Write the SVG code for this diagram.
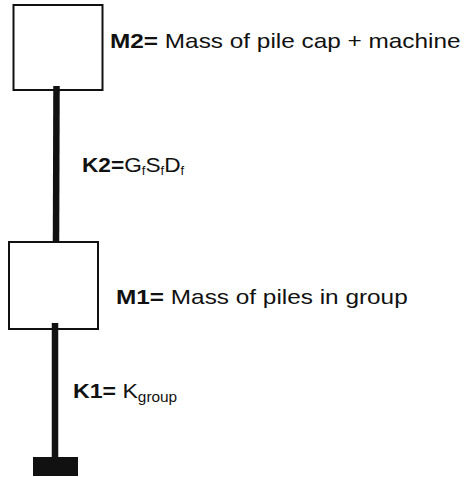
<svg xmlns="http://www.w3.org/2000/svg" width="466" height="477" viewBox="0 0 466 477">
<style>
.box{fill:none;stroke:#111;stroke-width:2}
.rod{stroke:#111;stroke-width:6.5;fill:none}
.lbl{font-family:"Liberation Sans",Arial,sans-serif;font-size:21px;fill:#111}
.b{font-weight:bold}
.sub{font-size:12px}
.sub2{font-size:14px}
</style>
<rect width="466" height="477" fill="#fff"/>
<g id="connectors">
<line class="rod" x1="56.5" y1="86" x2="56" y2="243"/>
<line class="rod" x1="55" y1="323" x2="55" y2="459"/>
</g>
<g id="M2">
<rect class="box" x="13.5" y="5" width="89" height="85"/>
<text class="lbl" transform="translate(110,48) scale(1.16,1)"><tspan class="b">M2=</tspan> Mass of pile cap + machine</text>
</g>
<g id="K2">
<text class="lbl" transform="translate(82,172) scale(1.08,1)"><tspan class="b">K2=</tspan>G<tspan class="sub" dy="3">f</tspan><tspan dy="-3">S</tspan><tspan class="sub" dy="3">f</tspan><tspan dy="-3">D</tspan><tspan class="sub" dy="3">f</tspan></text>
</g>
<g id="M1">
<rect class="box" x="9" y="242" width="89" height="87"/>
<text class="lbl" transform="translate(116,304) scale(1.16,1)"><tspan class="b">M1=</tspan> Mass of piles in group</text>
</g>
<g id="K1">
<text class="lbl" transform="translate(73,398) scale(1.1,1)"><tspan class="b">K1=</tspan> K<tspan class="sub2" dy="4">group</tspan></text>
</g>
<g id="ground">
<rect x="33" y="457" width="45" height="19" fill="#111"/>
</g>
</svg>
